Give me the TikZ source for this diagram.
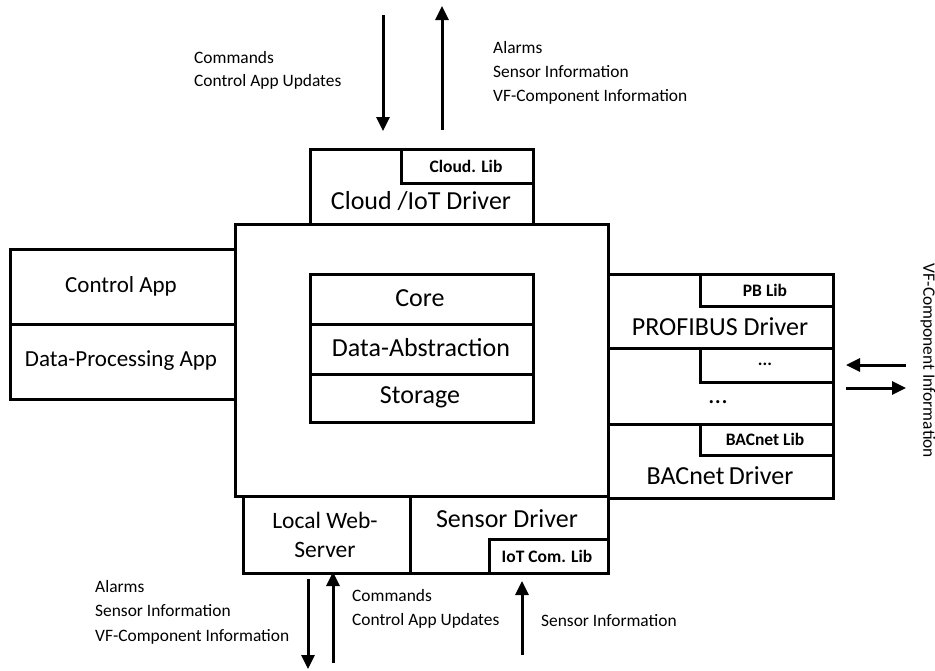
\documentclass[tikz,border=0pt]{standalone}
\usepackage{fontspec}
\setmainfont{Carlito}
\usetikzlibrary{arrows.meta}
\tikzset{
  box/.style={draw=black, line width=2.7pt, fill=white, inner sep=0pt, anchor=north west},
  big/.style={font=\fontsize{26}{30}\selectfont, inner sep=0pt},
  app/.style={font=\fontsize{23}{28}\selectfont, inner sep=0pt},
  lib/.style={font=\fontsize{17.5}{20}\selectfont\bfseries, inner sep=0pt},
  note/.style={font=\fontsize{17.4}{20}\selectfont, anchor=west, inner sep=0pt},
  flow/.style={line width=3pt, -{Triangle[length=14pt,width=13pt]}}
}
\begin{document}
\begin{tikzpicture}[x=1pt,y=-1pt]
\useasboundingbox (0,0) rectangle (935,670);
% main box
\node[box, minimum width=373pt, minimum height=272pt] (main) at (234,223) {};
% cloud driver
\node[box, minimum width=223pt, minimum height=75pt] (cloud) at (309,148) {};
\node[box, minimum width=132pt, minimum height=34pt] (cloudlib) at (400,148) {};
\node[lib] at (466,166) {Cloud. Lib};
\node[big] at (421,201) {Cloud /IoT Driver};
% apps
\node[box, minimum width=225pt, minimum height=75pt] (ctrl) at (9,248) {};
\node[box, minimum width=225pt, minimum height=75pt] (dp) at (9,323) {};
\node[app] at (121,286) {Control App};
\node[app] at (121,361) {Data-Processing App};
% core
\node[box, minimum width=223pt, minimum height=50pt] (core) at (309,273) {};
\node[box, minimum width=223pt, minimum height=50pt] (da) at (309,323) {};
\node[box, minimum width=223pt, minimum height=48pt] (st) at (309,373) {};
\node[big] at (420,298) {Core};
\node[big] at (421,348) {Data-Abstraction};
\node[big] at (420,397) {Storage};
% right drivers
\node[box, minimum width=225pt, minimum height=74pt] (pb) at (607,273) {};
\node[box, minimum width=225pt, minimum height=76pt] (dots) at (607,347) {};
\node[box, minimum width=225pt, minimum height=74pt] (bac) at (607,423) {};
\node[box, minimum width=133pt, minimum height=32pt] (pblib) at (699,273) {};
\node[box, minimum width=133pt, minimum height=34pt] (dotlib) at (699,347) {};
\node[box, minimum width=133pt, minimum height=31pt] (baclib) at (699,423) {};
\node[lib] at (765,290) {PB Lib};
\node[big] at (720,327) {PROFIBUS Driver};
\node[lib] at (765,364) {...};
\node[big] at (718,402) {...};
\node[lib] at (765,439) {BACnet Lib};
\node[big] at (720,476) {BACnet\,Driver};
% bottom drivers
\node[box, minimum width=167pt, minimum height=77pt] (web) at (242,495) {};
\node[box, minimum width=198pt, minimum height=77pt] (sens) at (409,495) {};
\node[box, minimum width=119pt, minimum height=34pt] (iotlib) at (488,538) {};
\node[app, align=center, font=\fontsize{23.5}{29}\selectfont] at (325,535) {Local Web-\\Server};
\node[big] at (507,519) {Sensor Driver};
\node[lib] at (547,556) {IoT Com. Lib};
% top arrows
\coordinate (t1s) at (383,15);  \coordinate (t1e) at (383,131);
\coordinate (t2s) at (442,130); \coordinate (t2e) at (442,6);
\draw[flow] (t1s) -- (t1e);
\draw[flow] (t2s) -- (t2e);
\node[note] at (194,58) {Commands};
\node[note] at (194,82) {Control App Updates};
\node[note] at (493,48) {Alarms};
\node[note] at (493,72) {Sensor Information};
\node[note] at (493,97) {VF-Component Information};
% right arrows
\coordinate (r1s) at (906,365); \coordinate (r1e) at (846,365);
\coordinate (r2s) at (846,388); \coordinate (r2e) at (906,388);
\draw[flow] (r1s) -- (r1e);
\draw[flow] (r2s) -- (r2e);
\node[font=\fontsize{17.4}{20}\selectfont, rotate=-90, inner sep=0pt] at (928,361) {VF-Component Information};
% bottom arrows
\coordinate (b1s) at (308,579); \coordinate (b1e) at (308,669);
\coordinate (b2s) at (333,663); \coordinate (b2e) at (333,572);
\coordinate (b3s) at (522,655); \coordinate (b3e) at (522,581);
\draw[flow] (b1s) -- (b1e);
\draw[flow] (b2s) -- (b2e);
\draw[flow] (b3s) -- (b3e);
\node[note] at (352,596) {Commands};
\node[note] at (352,621) {Control App Updates};
\node[note] at (541,621) {Sensor Information};
\node[note] at (95,587) {Alarms};
\node[note] at (95,611) {Sensor Information};
\node[note] at (95,637) {VF-Component Information};
\end{tikzpicture}
\end{document}
